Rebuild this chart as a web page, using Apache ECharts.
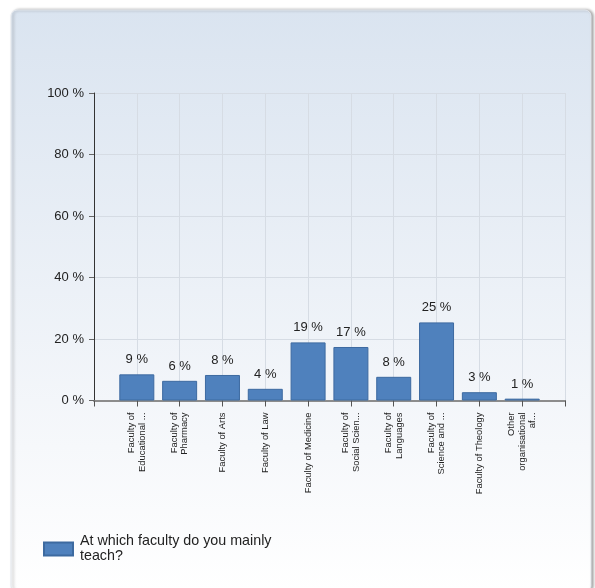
<!DOCTYPE html>
<html>
<head>
<meta charset="utf-8">
<script src="https://cdn.jsdelivr.net/npm/echarts@6/dist/echarts.min.js"></script>
<style>
html,body{margin:0;padding:0;background:#fff;}
#c{width:595px;height:588px;}
</style>
</head>
<body>
<div id="c"></div>
<script>
var categories = [
  "Faculty of\nEducational ...",
  "Faculty of\nPharmacy",
  "Faculty of Arts",
  "Faculty of Law",
  "Faculty of Medicine",
  "Faculty of\nSocial Scien...",
  "Faculty of\nLanguages",
  "Faculty of\nScience and ...",
  "Faculty of Theology",
  "Other\norganisational\naf..."
];
var values = [8.5, 6.4, 8.3, 3.8, 18.9, 17.4, 7.7, 25.4, 2.7, 0.6];
var yTicks = [0, 20, 40, 60, 80, 100];
var seriesName = "At which faculty do you mainly\nteach?";

var chart = echarts.init(document.getElementById('c'), null, {renderer: 'canvas'});
var barData = values.map(function (v, i) { return [i + 1, v]; });

chart.setOption({
  animation: false,
  textStyle: {fontFamily: 'Liberation Sans, Arial, sans-serif'},
  graphic: [{
    type: 'rect',
    z: -100,
    silent: true,
    shape: {x: 11, y: 10, width: 580, height: 582, r: 6},
    style: {
      fill: new echarts.graphic.LinearGradient(0, 0, 0, 1, [
        {offset: 0, color: '#dae4f0'},
        {offset: 0.75, color: '#f6f8fb'},
        {offset: 1, color: '#ffffff'}
      ]),
      stroke: '#e4e8ee',
      lineWidth: 1,
      shadowBlur: 3,
      shadowOffsetX: 2,
      shadowOffsetY: 0,
      shadowColor: 'rgba(0,0,0,0.35)'
    }
  }],
  grid: {left: 94, right: 30, top: 93, bottom: 187.5, containLabel: false},
  legend: {
    left: 43,
    top: 534,
    padding: 0,
    orient: 'vertical',
    itemWidth: 29,
    itemHeight: 13,
    icon: 'rect',
    textStyle: {fontSize: 14.3, color: '#222', lineHeight: 15, padding: [0, 0, 0, 2]},
    data: [seriesName]
  },
  xAxis: {
    type: 'value',
    min: 0,
    max: categories.length + 1,
    interval: 1,
    axisLine: {show: true, lineStyle: {color: '#8c8c8c', width: 2}},
    axisTick: {show: true, length: 6, lineStyle: {color: '#555', width: 1}},
    splitLine: {show: true, lineStyle: {color: '#d6dce4', width: 1}},
    axisLabel: {
      rotate: 90,
      margin: 12,
      fontSize: 9.4,
      lineHeight: 10.5,
      color: '#222',
      showMinLabel: true,
      showMaxLabel: true,
      formatter: function (v) {
        var i = Math.round(v) - 1;
        return (i >= 0 && i < categories.length) ? categories[i] : '';
      }
    }
  },
  yAxis: {
    type: 'value',
    min: yTicks[0],
    max: yTicks[yTicks.length - 1],
    interval: yTicks[1] - yTicks[0],
    axisLine: {show: true, lineStyle: {color: '#333', width: 1}},
    axisTick: {show: true, length: 5, lineStyle: {color: '#666'}},
    splitLine: {show: true, lineStyle: {color: '#d6dce4', width: 1}},
    axisLabel: {
      fontSize: 13,
      color: '#222',
      margin: 10,
      formatter: function (v) { return v + ' %'; }
    }
  },
  series: [{
    name: seriesName,
    type: 'bar',
    barWidth: 35,
    data: barData,
    itemStyle: {color: '#4f81bd', borderColor: '#3d6aa0', borderWidth: 1},
    label: {
      show: true,
      position: 'top',
      distance: 8,
      fontSize: 13,
      color: '#222',
      formatter: function (p) { return Math.round(p.value[1]) + ' %'; }
    }
  }]
});
</script>
</body>
</html>
